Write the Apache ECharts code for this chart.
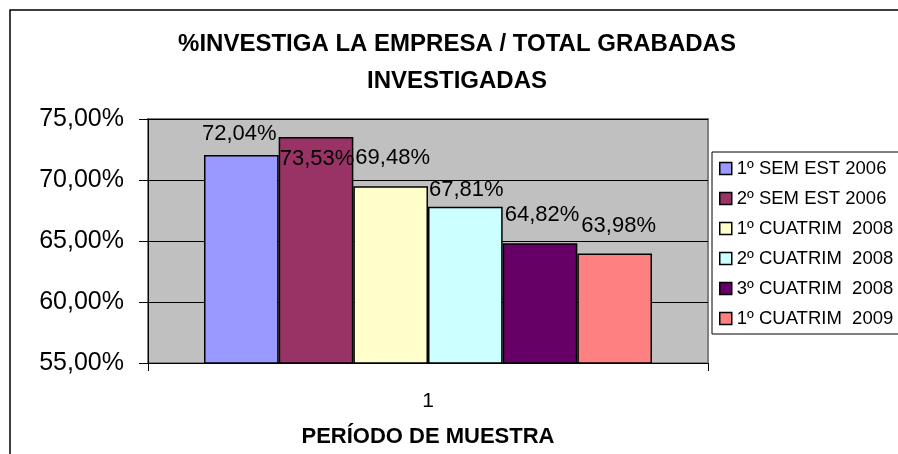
<!DOCTYPE html>
<html>
<head>
<meta charset="UTF-8">
<title>% Investiga la empresa</title>
<script src="https://cdn.jsdelivr.net/npm/echarts@6/dist/echarts.min.js"></script>
<style>
  html, body { margin: 0; padding: 0; background: #fff; }
  #main { width: 898px; height: 454px; }
</style>
</head>
<body>
<div id="main"></div>
<script>
// datos
var categorias = ['1'];
var periodos = ['1º SEM EST 2006', '2º SEM EST 2006', '1º CUATRIM  2008', '2º CUATRIM  2008', '3º CUATRIM  2008', '1º CUATRIM  2009'];
var valores = [72.04, 73.53, 69.48, 67.81, 64.82, 63.98];
var colores = ['#9999ff', '#993366', '#ffffcc', '#ccffff', '#660066', '#ff8080'];
// desplazamiento de las etiquetas (como quedaron en el original)
var etiquetaDesp = [[-2, -21], [1, 22], [2, -28], [1, -17], [2, -28], [4, -28]];

var fuente = 'Arial, "Liberation Sans", sans-serif';

function pct(v) {
  return v.toFixed(2).replace('.', ',') + '%';
}

var series = periodos.map(function (nombre, i) {
  return {
    name: nombre,
    type: 'bar',
    data: [valores[i]],
    barGap: '0%',
    barCategoryGap: '20%',
    itemStyle: { color: colores[i], borderColor: '#000', borderWidth: 1.5 },
    label: {
      show: true,
      position: 'top',
      distance: 0,
      verticalAlign: 'middle',
      offset: etiquetaDesp[i],
      color: '#000',
      fontSize: 22,
      fontFamily: fuente,
      formatter: function (p) { return pct(p.value); }
    }
  };
});

var myChart = echarts.init(document.getElementById('main'));
var option = {
  animation: false,
  title: {
    text: '%INVESTIGA LA EMPRESA / TOTAL GRABADAS\nINVESTIGADAS',
    left: 452,
    top: 21,
    textAlign: 'center',
    textStyle: { fontFamily: fuente, fontWeight: 'bold', fontSize: 24, lineHeight: 37, color: '#000' }
  },
  graphic: [{
    type: 'rect',
    shape: { x: 10, y: 10, width: 900, height: 460 },
    style: { fill: 'none', stroke: '#000', lineWidth: 1.5 },
    z: -10
  }],
  legend: {
    orient: 'vertical',
    left: 712,
    top: 152,
    padding: [7, 40, 6, 7],
    itemGap: 11,
    itemWidth: 12,
    itemHeight: 12,
    icon: 'rect',
    borderColor: '#000',
    borderWidth: 1,
    backgroundColor: '#fff',
    itemStyle: { borderColor: '#000', borderWidth: 1.5 },
    textStyle: { fontFamily: fuente, fontSize: 18.5, color: '#000' },
    data: periodos
  },
  grid: {
    left: 148,
    top: 119,
    right: 190,
    bottom: 91,
    show: true,
    backgroundColor: '#c0c0c0',
    borderColor: '#808080',
    borderWidth: 2
  },
  xAxis: {
    type: 'category',
    data: categorias,
    name: 'PERÍODO DE MUESTRA',
    nameLocation: 'middle',
    nameGap: 63,
    nameTextStyle: { fontFamily: fuente, fontWeight: 'bold', fontSize: 22, color: '#000' },
    axisLine: { lineStyle: { color: '#000', width: 1 } },
    axisTick: { show: true, length: 8, lineStyle: { color: '#000' } },
    axisLabel: { margin: 28, fontFamily: fuente, fontSize: 21, color: '#000' }
  },
  yAxis: {
    type: 'value',
    min: 55,
    max: 75,
    interval: 5,
    axisLine: { show: true, lineStyle: { color: '#000', width: 1 } },
    axisTick: { show: true, length: 9, lineStyle: { color: '#000' } },
    splitLine: { show: true, lineStyle: { color: '#000', width: 1 } },
    axisLabel: {
      margin: 24,
      fontFamily: fuente,
      fontSize: 25,
      color: '#000',
      formatter: function (v) { return pct(v); }
    }
  },
  series: series
};
myChart.setOption(option);
</script>
</body>
</html>
